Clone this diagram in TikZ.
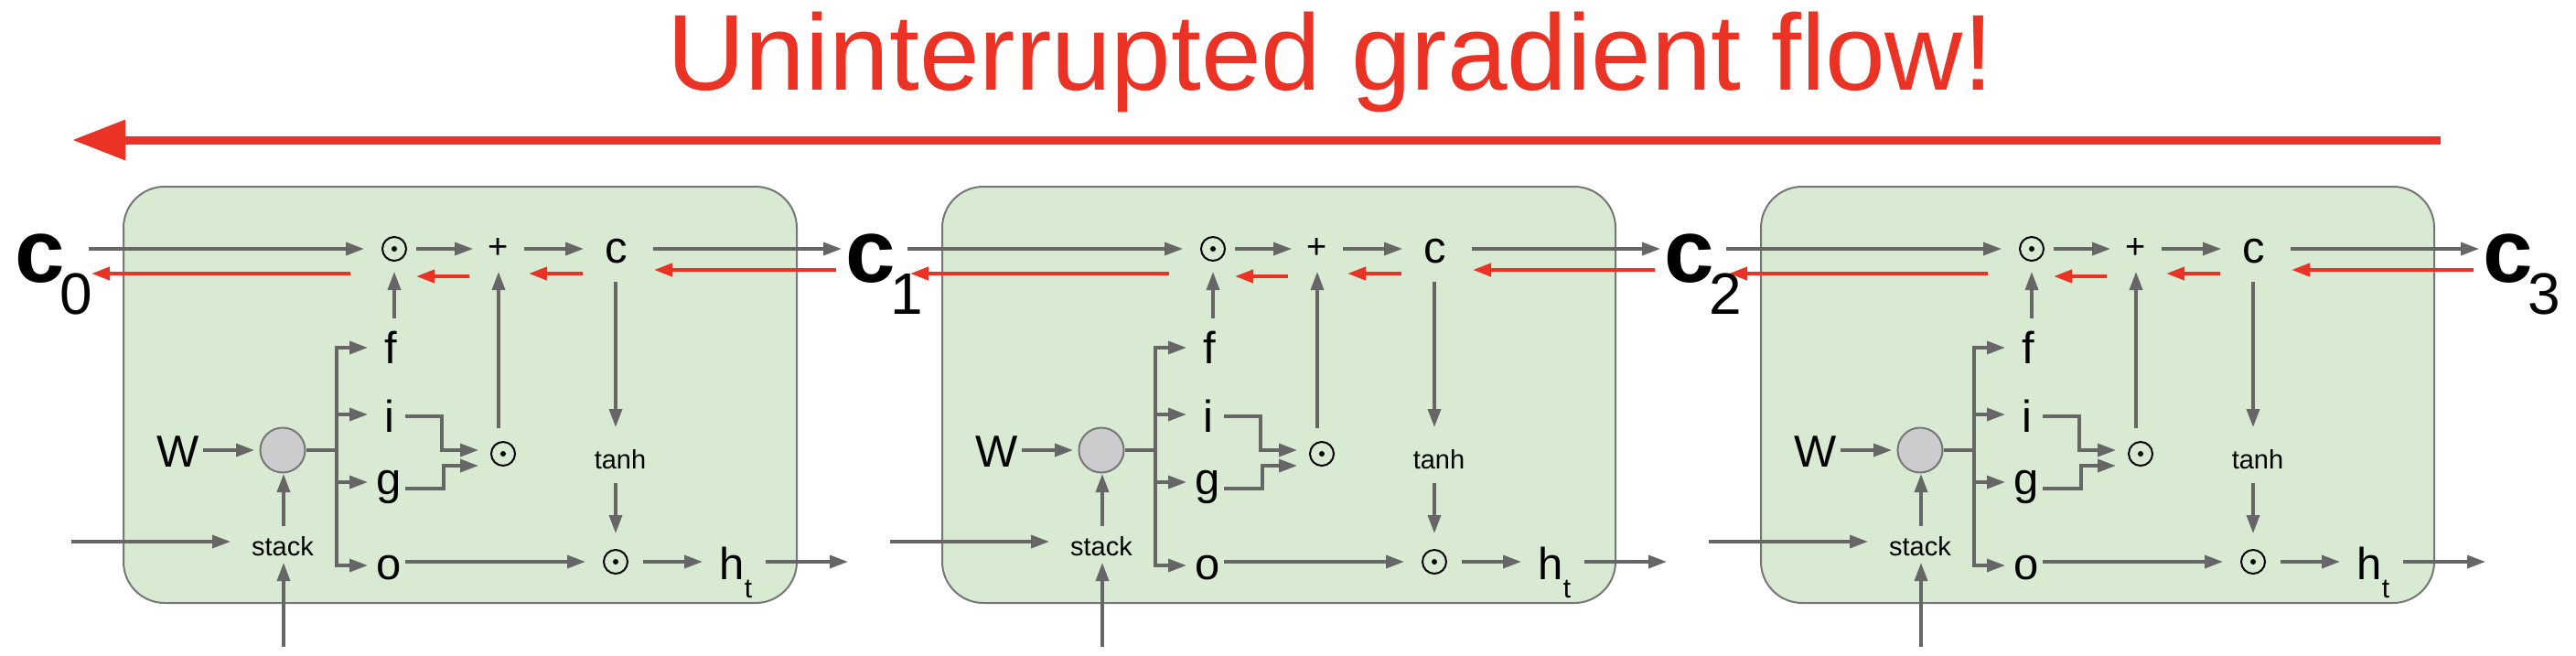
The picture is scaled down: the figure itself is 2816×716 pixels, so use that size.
\documentclass[tikz,border=0pt]{standalone}
\usepackage{fontspec}
\setmainfont{Liberation Sans}
\usetikzlibrary{arrows.meta,calc}
\definecolor{cellfill}{RGB}{217,234,211}
\definecolor{cellline}{RGB}{118,118,118}
\definecolor{arrgray}{RGB}{102,102,102}
\definecolor{gradred}{RGB}{234,51,36}
\definecolor{mmgray}{RGB}{204,204,207}
\tikzset{
  % LSTM cell background
  cellbox/.style  = {draw=cellline, line width=2pt, fill=cellfill, rounded corners=45pt, inner sep=0pt},
  % connectors
  gline/.style    = {draw=arrgray, line width=3.5pt},
  garrow/.style   = {gline, -{Triangle[length=20pt,width=14pt]}},
  rarrow/.style   = {draw=gradred, line width=4pt, -{Triangle[length=20pt,width=14pt]}},
  bigarrow/.style = {draw=gradred, line width=9pt, -{Triangle[length=58pt,width=42pt]}},
  % texts
  gate/.style     = {inner sep=0pt, anchor=base, font=\fontsize{49}{49}\selectfont},
  smalltxt/.style = {inner sep=0pt, anchor=base, font=\fontsize{29}{29}\selectfont},
  clab/.style     = {inner sep=0pt, anchor=base west},
  % operators
  opdot/.style    = {circle, draw=black, line width=2pt, minimum size=26pt, inner sep=0pt,
                     path picture={\fill[black] (path picture bounding box.center) circle (3pt);}},
  matnode/.style  = {circle, draw=cellline, line width=2pt, fill=mmgray, minimum size=49pt, inner sep=0pt},
}
\newcommand{\cellc}[1]{{\fontsize{98}{98}\selectfont\bfseries c}\kern-5pt\raisebox{-35pt}{\fontsize{64}{64}\selectfont #1}}
\newcommand{\hsub}{h\raisebox{-20pt}{\fontsize{30}{30}\selectfont t}}

\begin{document}
\begin{tikzpicture}[x=1pt, y=-1pt]
  \useasboundingbox (0,0) rectangle (2816,716);

  % title and gradient arrow
  \node[anchor=base, inner sep=0pt, text=gradred, font=\fontsize{118}{118}\selectfont] (title) at (1454.5,98) {Uninterrupted gradient flow!};
  \coordinate (gstart) at (2668,153);
  \coordinate (gend) at (79,153);
  \draw[bigarrow] (gstart) -- (gend);

  % three cells
  \foreach \k in {0,1,2}{
    \pgfmathsetmacro{\ox}{\k*895}
    \node[cellbox, minimum width=736pt, minimum height=455pt] (cell\k) at (\ox+503,431.5) {};

    \coordinate (cin\k)  at (\ox+97,272);
    \coordinate (cgr\k)  at (\ox+100,299);
    \coordinate (cout\k) at (\ox+920,272);
    \coordinate (cret\k) at (\ox+914,295);
    \coordinate (hin\k)  at (\ox+78,592);
    \coordinate (xin\k)  at (\ox+310,707);
    \coordinate (hout\k) at (\ox+927,614);

    \node[opdot] (fmul\k) at (\ox+431,272) {};
    \node[inner sep=0pt, font=\fontsize{38}{38}\selectfont] (plus\k) at (\ox+545,272) {+};
    \node[gate] (cst\k) at (\ox+674,287) {c};
    \node[gate] (fg\k) at (\ox+427,397) {f};
    \node[gate] (ig\k) at (\ox+426,472) {i};
    \node[gate] (gg\k) at (\ox+425.5,540) {g};
    \node[gate] (og\k) at (\ox+425.5,633) {o};
    \node[gate] (Wl\k) at (\ox+195,510) {W};
    \node[matnode] (mm\k) at (\ox+309,492) {};
    \node[smalltxt] (stk\k) at (\ox+309,607) {stack};
    \node[opdot] (imul\k) at (\ox+550,496) {};
    \node[smalltxt] (tnh\k) at (\ox+678,512) {tanh};
    \node[opdot] (hmul\k) at (\ox+673,614) {};
    \node[gate, anchor=base west] (ht\k) at (\ox+786.5,633) {\hsub};

    % forward path
    \draw[garrow] (cin\k) -- ($(fmul\k)+(-33,0)$);
    \draw[garrow] ($(fmul\k)+(24,0)$) -- ($(plus\k)+(-28,0)$);
    \draw[garrow] ($(plus\k)+(28,0)$) -- ($(cst\k.base)+(-36,-15)$);
    \draw[garrow] ($(cst\k.base)+(40,-15)$) -- (cout\k);
    \draw[garrow] ($(fg\k.base)+(4,-49)$) -- ($(fmul\k)+(0,25)$);
    \draw[gline] (mm\k.east) -- ($(mm\k)+(59,0)$);
    \draw[garrow] ($(mm\k)+(59,0)$) |- ($(fg\k.base)+(-25,-17)$);
    \draw[garrow] ($(mm\k)+(59,0)$) |- ($(ig\k.base)+(-24,-19)$);
    \draw[garrow] ($(mm\k)+(59,0)$) |- ($(gg\k.base)+(-23.5,-13)$);
    \draw[garrow] ($(mm\k)+(59,0)$) |- ($(og\k.base)+(-23.5,-15)$);
    \draw[garrow] ($(ig\k.base)+(17,-17)$) -| ($(imul\k)+(-67,-4)$) -- ($(imul\k)+(-27,-4)$);
    \draw[garrow] ($(gg\k.base)+(17.5,-6)$) -| ($(imul\k)+(-65,13)$) -- ($(imul\k)+(-27,13)$);
    \draw[garrow] ($(imul\k)+(-5,-28)$) -- ($(plus\k)+(0,25)$);
    \draw[garrow] ($(cst\k.base)+(-1,21)$) -- ($(tnh\k.base)+(-5,-45)$);
    \draw[garrow] ($(tnh\k.base)+(-5,16)$) -- ($(hmul\k)+(0,-31)$);
    \draw[garrow] ($(og\k.base)+(17.5,-19)$) -- ($(hmul\k)+(-33,0)$);
    \draw[garrow] ($(hmul\k)+(30,0)$) -- ($(ht\k.base west)+(-18.5,-19)$);
    \draw[garrow] ($(ht\k.base west)+(50.5,-19)$) -- (hout\k);
    \draw[garrow] ($(Wl\k.base)+(27,-18)$) -- ($(mm\k)+(-31,0)$);
    \draw[garrow] (hin\k) -- ($(stk\k.base)+(-57,-15)$);
    \draw[garrow] ($(stk\k.base)+(1,-32)$) -- ($(mm\k)+(1,26)$);
    \draw[garrow] (xin\k) -- ($(stk\k.base)+(1,8)$);

    % gradient path
    \draw[rarrow] ($(fmul\k)+(-48,27)$) -- (cgr\k);
    \draw[rarrow] ($(plus\k)+(-32,30)$) -- ($(fmul\k)+(24,30)$);
    \draw[rarrow] ($(cst\k.base)+(-37,12)$) -- ($(plus\k)+(33,27)$);
    \draw[rarrow] (cret\k) -- ($(cst\k.base)+(41,8)$);
  }

  % cell states
  \node[clab] (lab0) at (16,308) {\cellc{0}};
  \node[clab] (lab1) at (924,308) {\cellc{1}};
  \node[clab] (lab2) at (1819,308) {\cellc{2}};
  \node[clab] (lab3) at (2714,308) {\cellc{3}};
\end{tikzpicture}
\end{document}
